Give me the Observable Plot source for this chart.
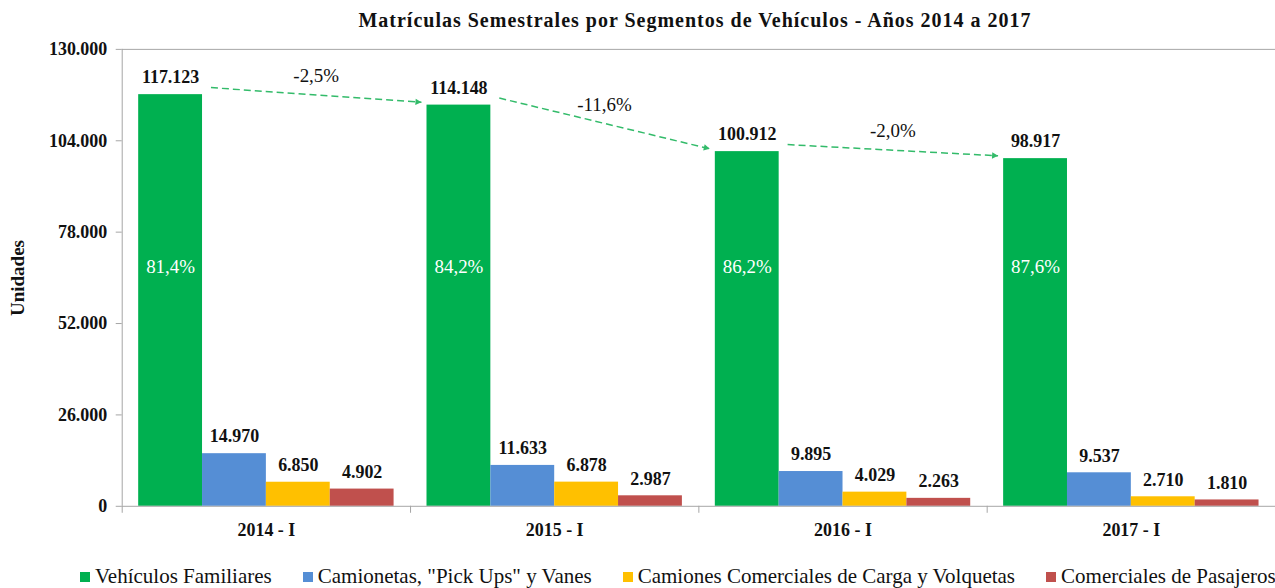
<!DOCTYPE html>
<html>
<head>
<meta charset="utf-8">
<script src="https://cdn.jsdelivr.net/npm/d3@7"></script>
<script src="https://cdn.jsdelivr.net/npm/@observablehq/plot@0.6"></script>
<style>
  html, body { margin: 0; padding: 0; background: white; overflow: hidden; width: 1275px; height: 588px; }
  #wrap { position: relative; width: 1275px; height: 588px; font-family: 'Liberation Serif', 'Times New Roman', 'DejaVu Serif', serif; }
  #title { position: absolute; top: 9px; left: 0; width: 1390px; text-align: center; font-weight: bold; font-size: 20px; letter-spacing: 1px; color: #111; }
  #ylab { position: absolute; left: 18px; top: 278px; transform: translate(-50%, -50%) rotate(-90deg); font-weight: bold; font-size: 19px; color: #111; white-space: nowrap; }
  #chart { position: absolute; top: 0; left: 0; }
  #legend { position: absolute; top: 564px; left: 80px; display: flex; gap: 31px; font-size: 21px; color: #111; white-space: nowrap; }
  .item { display: flex; align-items: center; gap: 5px; }
  .sw { width: 10px; height: 10px; display: inline-block; }
</style>
</head>
<body>
<div id="wrap">
  <div id="chart"></div>
  <div id="title">Matrículas Semestrales por Segmentos de Vehículos - Años 2014 a 2017</div>
  <div id="ylab">Unidades</div>
  <div id="legend"></div>
</div>
<script>
// ---- data ----
const periods = ["2014 - I", "2015 - I", "2016 - I", "2017 - I"];
const segments = ["Vehículos Familiares", "Camionetas, \"Pick Ups\" y Vanes", "Camiones Comerciales de Carga y Volquetas", "Comerciales de Pasajeros"];
const familiares = [117123, 114148, 100912, 98917];
const camionetas = [14970, 11633, 9895, 9537];
const camiones = [6850, 6878, 4029, 2710];
const pasajeros = [4902, 2987, 2263, 1810];
const shareFamiliares = [81.4, 84.2, 86.2, 87.6];
const changeFamiliares = [-2.5, -11.6, -2.0];
const yTicks = [0, 26000, 52000, 78000, 104000, 130000];
const colors = ["#00B050", "#558ED5", "#FFC000", "#C0504D"];

// ---- helpers ----
const loc = d3.formatLocale({decimal: ",", thousands: ".", grouping: [3], currency: ["", ""], minus: "-"});
const fmtInt = loc.format(",d");
const fmtPct = v => loc.format(".1f")(v) + "%";
const serif = "'Liberation Serif', 'Times New Roman', 'DejaVu Serif', serif";

const series = [familiares, camionetas, camiones, pasajeros];
const rows = periods.flatMap((p, i) => segments.map((s, j) => ({i, j, seg: s, value: series[j][i]})));
const BW = 64 / 289;          // bar width as a fraction of a group
const G0 = -2 * BW;           // left edge of first bar relative to group centre
const barX1 = d => d.i + G0 + d.j * BW;
const barX2 = d => d.i + G0 + (d.j + 1) * BW;
const barXm = d => d.i + G0 + (d.j + 0.5) * BW;

const shares = shareFamiliares.map((v, i) => ({i, j: 0, v}));
const arrows = changeFamiliares.map((c, i) => ({
  c,
  x1: i + G0 + 0.5 * BW + 0.14,
  x2: i + 1 + G0 + 0.5 * BW - 0.13,
  y1: familiares[i] + 2000,
  y2: familiares[i + 1] + 800
}));
const boundaries = d3.range(periods.length + 1).map(k => k - 0.5);
const shareLabelY = 68000;
const axisGray = "#a6a6a6";
const arrowGreen = "#33bb6a";

const chart = Plot.plot({
  width: 1278,
  height: 550,
  marginLeft: 122,
  marginRight: 0,
  marginTop: 49,
  marginBottom: 43,
  x: {domain: [-0.5, periods.length - 0.5], axis: null},
  y: {domain: [0, 130000], axis: null},
  color: {domain: segments, range: colors},
  style: {fontFamily: serif, fontSize: "18px", fontWeight: "bold", color: "#111", background: "white", overflow: "visible"},
  marks: [
    Plot.rectY(rows, {x1: barX1, x2: barX2, y: "value", fill: "seg"}),
    Plot.ruleY([130000], {stroke: axisGray}),
    Plot.ruleY([0], {stroke: axisGray}),
    Plot.ruleX([-0.5], {stroke: axisGray}),
    Plot.axisY({ticks: yTicks, tickFormat: fmtInt, tickSize: 6, tickPadding: 9, stroke: axisGray, fill: "#111", label: null}),
    Plot.axisX({ticks: boundaries, tickSize: 7, tickFormat: () => "", stroke: axisGray, label: null}),
    Plot.axisX({ticks: d3.range(periods.length), tickSize: 0, tickPadding: 17, tickFormat: i => periods[i], fill: "#111", label: null}),
    Plot.text(rows, {x: barXm, y: "value", text: d => fmtInt(d.value), dy: -17, lineAnchor: "middle", fill: "#111"}),
    Plot.text(shares, {x: barXm, y: () => shareLabelY, text: d => fmtPct(d.v), fill: "white", fontWeight: "normal", fontFamily: serif, fontSize: 19, lineAnchor: "middle"}),
    Plot.link(arrows, {x1: "x1", y1: "y1", x2: "x2", y2: "y2", stroke: arrowGreen, strokeWidth: 1.5, strokeDasharray: "7,4", markerEnd: "arrow"}),
    Plot.text(arrows, {x: d => (d.x1 + d.x2) / 2, y: d => (d.y1 + d.y2) / 2, dy: -19, text: d => fmtPct(d.c), fontWeight: "normal", fontFamily: serif, fontSize: 19, lineAnchor: "middle", fill: "#111"})
  ]
});

// filled triangular arrow heads
chart.querySelectorAll("marker").forEach(m => {
  m.setAttribute("overflow", "visible");
  m.setAttribute("fill", arrowGreen);
  m.setAttribute("stroke", "none");
  const p = m.querySelector("path");
  if (p) p.setAttribute("d", "M-6,-3.2L0,0L-6,3.2Z");
});
document.getElementById("chart").appendChild(chart);

// legend
const lg = document.getElementById("legend");
segments.forEach((s, j) => {
  const it = document.createElement("div");
  it.className = "item";
  const sw = document.createElement("span");
  sw.className = "sw";
  sw.style.background = colors[j];
  const t = document.createElement("span");
  t.textContent = s;
  it.appendChild(sw); it.appendChild(t);
  lg.appendChild(it);
});
</script>
</body>
</html>
